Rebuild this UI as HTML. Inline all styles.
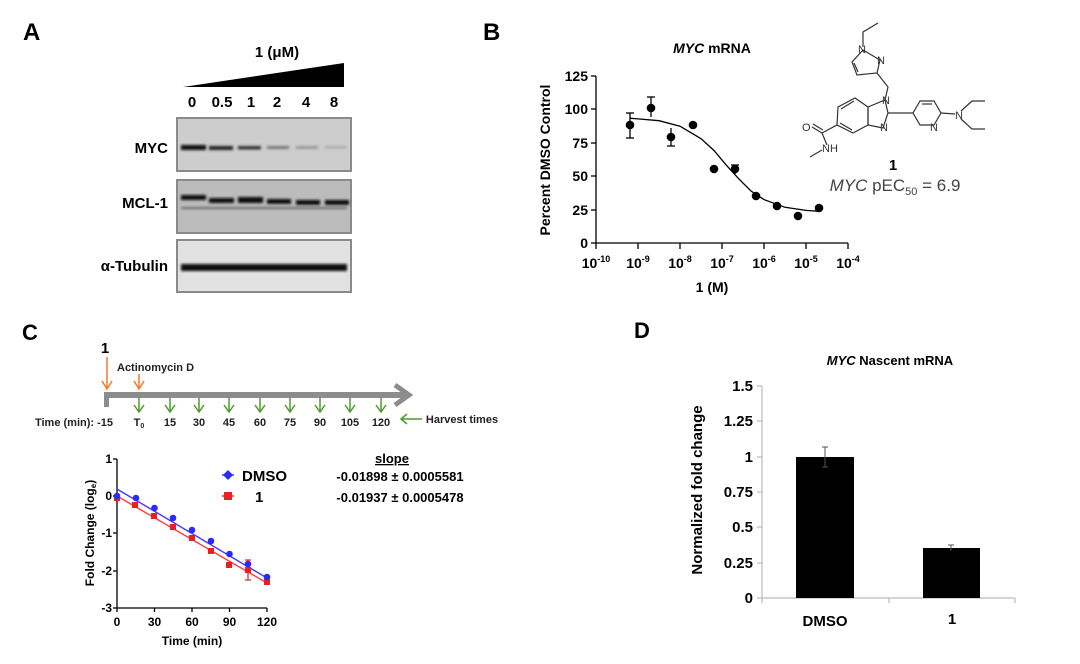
<!DOCTYPE html>
<html><head><meta charset="utf-8"><style>
html,body{margin:0;padding:0;background:#fff;}
svg{display:block;font-family:"Liberation Sans",sans-serif;}
</style></head><body>
<svg width="1080" height="664" viewBox="0 0 1080 664" xmlns="http://www.w3.org/2000/svg">
<defs>
<filter id="bl" x="-10%" y="-50%" width="120%" height="200%"><feGaussianBlur stdDeviation="1.3"/></filter>
</defs>
<!-- Panel A -->
<text x="23" y="40" font-size="24" font-weight="bold">A</text>
<text x="277" y="57" font-size="15" font-weight="bold" text-anchor="middle">1 (μM)</text>
<polygon points="183,87 344,63 344,87" fill="#000"/>
<g font-size="15" font-weight="bold" text-anchor="middle">
<text x="192" y="107">0</text><text x="222" y="107">0.5</text><text x="251" y="107">1</text>
<text x="277" y="107">2</text><text x="306" y="107">4</text><text x="334" y="107">8</text>
</g>
<g font-size="15" font-weight="bold" text-anchor="end">
<text x="168" y="153">MYC</text><text x="168" y="208">MCL-1</text><text x="168" y="271">α-Tubulin</text>
</g>
<rect x="177" y="118" width="174" height="53" fill="#cdcdcd" stroke="#8a8a8a" stroke-width="2"/>
<rect x="177" y="180" width="174" height="53" fill="#bcbcbc" stroke="#8a8a8a" stroke-width="2"/>
<rect x="177" y="240" width="174" height="52" fill="#e2e2e2" stroke="#8a8a8a" stroke-width="2"/>
<g filter="url(#bl)">
<rect x="181" y="145" width="25" height="5" fill="#111"/>
<rect x="209" y="146" width="24" height="4" fill="#222"/>
<rect x="238" y="146" width="23" height="3.5" fill="#333"/>
<rect x="267" y="146" width="22" height="3" fill="#777"/>
<rect x="296" y="146" width="22" height="3" fill="#999"/>
<rect x="325" y="146" width="22" height="2.5" fill="#aaa"/>
<rect x="181" y="195" width="25" height="5" fill="#111"/>
<rect x="209" y="198" width="25" height="5" fill="#111"/>
<rect x="238" y="197" width="25" height="6" fill="#0a0a0a"/>
<rect x="267" y="199" width="24" height="5" fill="#111"/>
<rect x="296" y="200" width="24" height="5" fill="#111"/>
<rect x="325" y="200" width="24" height="5" fill="#111"/>
<rect x="181" y="207" width="166" height="2" fill="#666"/>
<rect x="181" y="264" width="166" height="7" fill="#0a0a0a"/>
</g>
<!-- Panel B -->
<text x="483" y="40" font-size="24" font-weight="bold">B</text>
<text x="712" y="53" font-size="14" font-weight="bold" text-anchor="middle"><tspan font-style="italic">MYC</tspan> mRNA</text>
<g stroke="#000" stroke-width="1.3" fill="none">
<line x1="596" y1="76" x2="596" y2="243"/><line x1="596" y1="243" x2="848" y2="243"/>
<line x1="591" y1="76" x2="596" y2="76"/><line x1="591" y1="109" x2="596" y2="109"/><line x1="591" y1="143" x2="596" y2="143"/><line x1="591" y1="176" x2="596" y2="176"/><line x1="591" y1="210" x2="596" y2="210"/><line x1="591" y1="243" x2="596" y2="243"/>
<line x1="596" y1="243" x2="596" y2="249"/><line x1="638" y1="243" x2="638" y2="249"/><line x1="680" y1="243" x2="680" y2="249"/><line x1="722" y1="243" x2="722" y2="249"/><line x1="764" y1="243" x2="764" y2="249"/><line x1="806" y1="243" x2="806" y2="249"/><line x1="848" y1="243" x2="848" y2="249"/>
</g>
<g font-size="14" font-weight="bold" text-anchor="end">
<text x="588" y="81">125</text><text x="588" y="114">100</text><text x="588" y="148">75</text><text x="588" y="181">50</text><text x="588" y="215">25</text><text x="588" y="248">0</text>
</g>
<g font-size="14" font-weight="bold" text-anchor="middle">
<text x="596" y="268">10<tspan font-size="9" dy="-6">-10</tspan></text>
<text x="638" y="268">10<tspan font-size="9" dy="-6">-9</tspan></text>
<text x="680" y="268">10<tspan font-size="9" dy="-6">-8</tspan></text>
<text x="722" y="268">10<tspan font-size="9" dy="-6">-7</tspan></text>
<text x="764" y="268">10<tspan font-size="9" dy="-6">-6</tspan></text>
<text x="806" y="268">10<tspan font-size="9" dy="-6">-5</tspan></text>
<text x="848" y="268">10<tspan font-size="9" dy="-6">-4</tspan></text>
<text x="712" y="292">1 (M)</text>
</g>
<text transform="translate(550,160) rotate(-90)" font-size="14" font-weight="bold" text-anchor="middle">Percent DMSO Control</text>
<path d="M629.6,118.2 L659,120.7 L680,126.2 L701,138.7 L714,150.5 L726,164.8 L739,179.1 L751,191 L764,199.6 L785,207.3 L806,210.4 L819,211.3" fill="none" stroke="#000" stroke-width="1.3"/>
<g stroke="#000" stroke-width="1.3">
<line x1="630" y1="113" x2="630" y2="138"/><line x1="626" y1="113" x2="634" y2="113"/><line x1="626" y1="138" x2="634" y2="138"/>
<line x1="651" y1="97" x2="651" y2="117"/><line x1="647" y1="97" x2="655" y2="97"/>
<line x1="671" y1="128" x2="671" y2="146"/><line x1="667" y1="146" x2="675" y2="146"/>
<line x1="735" y1="165" x2="735" y2="174"/><line x1="731" y1="165" x2="739" y2="165"/>
</g>
<g fill="#000">
<circle cx="630" cy="125" r="4.3"/><circle cx="651" cy="108" r="4.3"/><circle cx="671" cy="137" r="4.3"/><circle cx="693" cy="125" r="4.3"/><circle cx="714" cy="169" r="4.3"/><circle cx="735" cy="169" r="4.3"/><circle cx="756" cy="196" r="4.3"/><circle cx="777" cy="206" r="4.3"/><circle cx="798" cy="216" r="4.3"/><circle cx="819" cy="208" r="4.3"/>
</g>
<!-- structure -->
<g stroke="#333" stroke-width="1.2" fill="none">
<polyline points="878,23 863,32 863,47"/>
<polygon points="863,50 880,60 877,73 857,75 852,62"/>
<line x1="858" y1="72" x2="854" y2="63"/>
<polyline points="877,73 888,87 885,100"/>
<polygon points="885,100 888,113 883,128 868,125 868,107"/>
<polygon points="868,107 855,98 838,107 837,125 853,133 868,125"/>
<line x1="841" y1="109" x2="854" y2="101"/><line x1="840" y1="123" x2="852" y2="130"/>
<polyline points="837,125 822,133 827,145"/><line x1="822" y1="133" x2="812" y2="127"/><line x1="823" y1="130" x2="813" y2="124"/>
<line x1="822" y1="150" x2="810" y2="157"/>
<line x1="888" y1="113" x2="913" y2="113"/>
<polygon points="913,113 920,101 934,101 941,113 934,125 920,125"/>
<line x1="922" y1="104" x2="932" y2="104"/>
<line x1="941" y1="113" x2="955" y2="114"/>
<polyline points="961,111 972,101 985,101"/><polyline points="961,119 972,129 985,129"/>
</g>
<g font-size="11" fill="#333">
<text x="858" y="53">N</text><text x="877" y="64">N</text><text x="882" y="104">N</text><text x="880" y="131">N</text><text x="930" y="131">N</text><text x="955" y="119">N</text>
<text x="802" y="131">O</text><text x="822" y="152">NH</text>
</g>
<text x="893" y="170" font-size="15" font-weight="bold" text-anchor="middle">1</text>
<text x="895" y="191" font-size="17" fill="#444" text-anchor="middle"><tspan font-style="italic">MYC</tspan> pEC<tspan font-size="11" dy="4">50</tspan><tspan dy="-4"> = 6.9</tspan></text>
<!-- Panel C -->
<text x="22" y="340" font-size="22" font-weight="bold">C</text>
<text x="105" y="353" font-size="15" font-weight="bold" text-anchor="middle">1</text>
<text x="117" y="371" font-size="11" font-weight="bold" fill="#222">Actinomycin D</text>
<g stroke="#f07a2a" stroke-width="1.5" fill="none">
<line x1="107" y1="357" x2="107" y2="388"/><polyline points="102,381 107,389 112,381"/>
<line x1="139" y1="374" x2="139" y2="388"/><polyline points="134,381 139,389 144,381"/>
</g>
<rect x="104" y="392" width="302" height="6" fill="#8c8c8c"/>
<rect x="104" y="392" width="5" height="15" fill="#8c8c8c"/>
<polyline points="395,385 409,395 395,405" fill="none" stroke="#8c8c8c" stroke-width="5"/>
<g stroke="#4f9a2a" stroke-width="1.5" fill="none">
<g id="ga"><line x1="139" y1="398" x2="139" y2="412"/><polyline points="134,405 139,412 144,405"/></g>
<use href="#ga" x="31"/><use href="#ga" x="60"/><use href="#ga" x="90"/><use href="#ga" x="121"/><use href="#ga" x="151"/><use href="#ga" x="181"/><use href="#ga" x="211"/><use href="#ga" x="242"/>
<line x1="402" y1="419" x2="422" y2="419"/><polyline points="407,414 401,419 407,424"/>
</g>
<g font-size="11" font-weight="bold" fill="#222" text-anchor="middle">
<text x="74" y="426">Time (min): -15</text>
<text x="139" y="426">T<tspan font-size="7" dy="2">0</tspan></text>
<text x="170" y="426">15</text><text x="199" y="426">30</text><text x="229" y="426">45</text><text x="260" y="426">60</text><text x="290" y="426">75</text><text x="320" y="426">90</text><text x="350" y="426">105</text><text x="381" y="426">120</text>
<text x="462" y="423">Harvest times</text>
</g>
<g stroke="#000" stroke-width="1.3">
<line x1="117" y1="459" x2="117" y2="608"/><line x1="117" y1="608" x2="267" y2="608"/>
<line x1="113" y1="459" x2="117" y2="459"/><line x1="113" y1="496" x2="117" y2="496"/><line x1="113" y1="533" x2="117" y2="533"/><line x1="113" y1="571" x2="117" y2="571"/><line x1="113" y1="608" x2="117" y2="608"/>
<line x1="117" y1="608" x2="117" y2="612"/><line x1="154.5" y1="608" x2="154.5" y2="612"/><line x1="192" y1="608" x2="192" y2="612"/><line x1="229.5" y1="608" x2="229.5" y2="612"/><line x1="267" y1="608" x2="267" y2="612"/>
</g>
<g font-size="12" font-weight="bold" text-anchor="end">
<text x="112" y="463">1</text><text x="112" y="500">0</text><text x="112" y="537">-1</text><text x="112" y="575">-2</text><text x="112" y="612">-3</text>
</g>
<g font-size="12" font-weight="bold" text-anchor="middle">
<text x="117" y="626">0</text><text x="154.5" y="626">30</text><text x="192" y="626">60</text><text x="229.5" y="626">90</text><text x="267" y="626">120</text>
<text x="192" y="645">Time (min)</text>
</g>
<text transform="translate(94,533) rotate(-90)" font-size="12" font-weight="bold" text-anchor="middle">Fold Change (log<tspan font-size="8" dy="2">e</tspan><tspan dy="-2">)</tspan></text>
<line x1="117" y1="489" x2="267" y2="578" stroke="#3a3aff" stroke-width="1.4"/>
<line x1="117" y1="496" x2="267" y2="583" stroke="#ff3a3a" stroke-width="1.4"/>
<g stroke="#e02020" stroke-width="1.2"><line x1="248" y1="560" x2="248" y2="580"/><line x1="245" y1="560" x2="251" y2="560"/><line x1="245" y1="580" x2="251" y2="580"/></g>
<g fill="#e82020">
<rect x="114" y="495" width="6" height="6"/><rect x="132" y="502" width="6" height="6"/><rect x="151" y="513" width="6" height="6"/><rect x="170" y="524" width="6" height="6"/><rect x="189" y="535" width="6" height="6"/><rect x="208" y="548" width="6" height="6"/><rect x="226" y="562" width="6" height="6"/><rect x="245" y="567" width="6" height="6"/><rect x="264" y="579" width="6" height="6"/>
</g>
<g fill="#2a2aff">
<circle cx="117" cy="496" r="3.3"/><circle cx="136" cy="498" r="3.3"/><circle cx="154.5" cy="508" r="3.3"/><circle cx="173" cy="518" r="3.3"/><circle cx="192" cy="530" r="3.3"/><circle cx="211" cy="541" r="3.3"/><circle cx="229.5" cy="554" r="3.3"/><circle cx="248" cy="564" r="3.3"/><circle cx="267" cy="577" r="3.3"/>
</g>
<line x1="222" y1="475" x2="234" y2="475" stroke="#2a2aff" stroke-width="1.4"/>
<polygon points="228,470 233,475 228,480 223,475" fill="#2a2aff"/>
<line x1="222" y1="496" x2="234" y2="496" stroke="#e82020" stroke-width="1.4"/>
<rect x="224" y="492" width="8" height="8" fill="#e82020"/>
<text x="242" y="481" font-size="15" font-weight="bold">DMSO</text>
<text x="255" y="502" font-size="15" font-weight="bold">1</text>
<text x="392" y="463" font-size="13" font-weight="bold" text-anchor="middle" text-decoration="underline">slope</text>
<text x="400" y="481" font-size="13" font-weight="bold" text-anchor="middle">-0.01898 ± 0.0005581</text>
<text x="400" y="502" font-size="13" font-weight="bold" text-anchor="middle">-0.01937 ± 0.0005478</text>
<!-- Panel D -->
<text x="634" y="338" font-size="22" font-weight="bold">D</text>
<text x="890" y="365" font-size="13" font-weight="bold" text-anchor="middle"><tspan font-style="italic">MYC</tspan> Nascent mRNA</text>
<g stroke="#bbb" stroke-width="1.2">
<line x1="762" y1="386" x2="762" y2="598"/><line x1="762" y1="598" x2="1015" y2="598"/>
<line x1="757" y1="386" x2="762" y2="386"/><line x1="757" y1="421" x2="762" y2="421"/><line x1="757" y1="457" x2="762" y2="457"/><line x1="757" y1="492" x2="762" y2="492"/><line x1="757" y1="527" x2="762" y2="527"/><line x1="757" y1="563" x2="762" y2="563"/><line x1="757" y1="598" x2="762" y2="598"/>
<line x1="889" y1="598" x2="889" y2="603"/><line x1="1015" y1="598" x2="1015" y2="603"/><line x1="762" y1="598" x2="762" y2="603"/>
</g>
<g font-size="15" font-weight="bold" text-anchor="end">
<text x="753" y="391">1.5</text><text x="753" y="426">1.25</text><text x="753" y="462">1</text><text x="753" y="497">0.75</text><text x="753" y="532">0.5</text><text x="753" y="568">0.25</text><text x="753" y="603">0</text>
</g>
<text transform="translate(702,490) rotate(-90)" font-size="15" font-weight="bold" text-anchor="middle">Normalized fold change</text>
<rect x="796" y="457" width="58" height="141" fill="#000"/>
<rect x="923" y="548" width="57" height="50" fill="#000"/>
<g stroke="#555" stroke-width="1"><line x1="825" y1="447" x2="825" y2="467"/><line x1="822" y1="447" x2="828" y2="447"/><line x1="822" y1="467" x2="828" y2="467"/><line x1="951" y1="545" x2="951" y2="551"/><line x1="948" y1="545" x2="954" y2="545"/></g>
<text x="825" y="626" font-size="15" font-weight="bold" text-anchor="middle">DMSO</text>
<text x="952" y="624" font-size="15" font-weight="bold" text-anchor="middle">1</text>
</svg>
</body></html>
